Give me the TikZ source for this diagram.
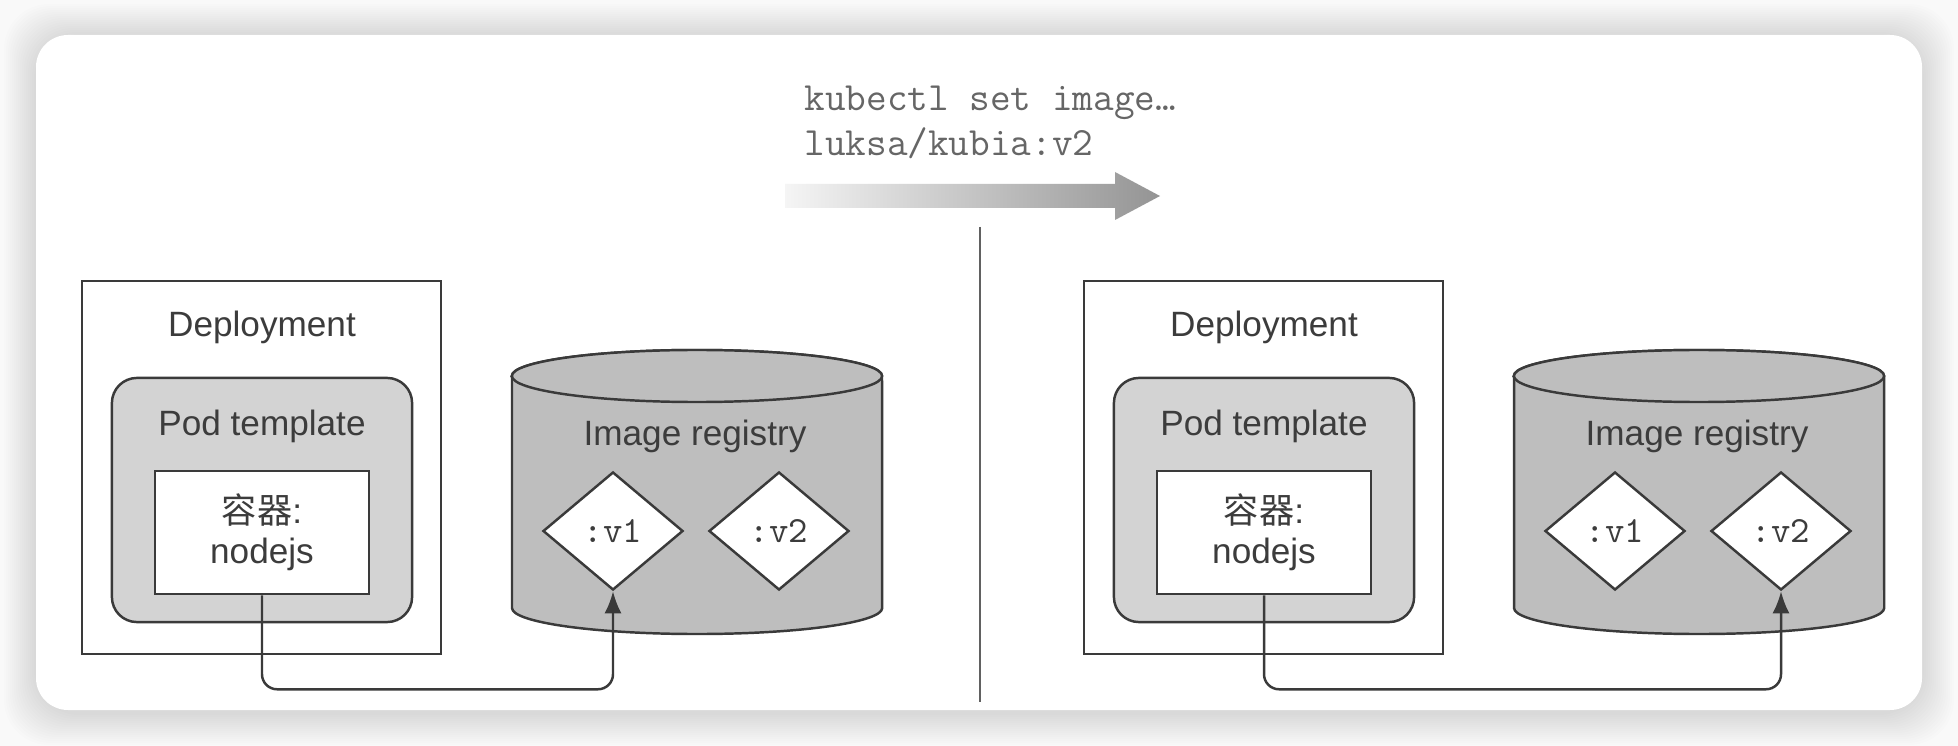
\documentclass[tikz,border=0pt]{standalone}
\usepackage{fontspec}
\setmainfont{Liberation Sans}
\newfontfamily\cjk{Noto Sans CJK SC}
\usepackage{tikz}
\usetikzlibrary{positioning, shapes.geometric, arrows.meta}

\definecolor{ink}{HTML}{3A3A3A}
\definecolor{labelgray}{HTML}{3C3C3C}
\definecolor{cmdgray}{HTML}{666666}
\definecolor{podgray}{HTML}{D3D3D3}
\definecolor{cylgray}{HTML}{BEBEBE}
\definecolor{pagebg}{HTML}{F9F9F9}

\begin{document}
\begin{tikzpicture}[x = 0.01cm, y = -0.01cm,
    every node/.style = { text = labelgray, font = \fontsize{10}{12}\selectfont },
    deploy/.style = { draw = ink, line width = 0.7pt, minimum width = 3.59cm, minimum height = 3.73cm },
    pod/.style = { draw = ink, line width = 0.7pt, fill = podgray, rounded corners = 0.25cm,
                   minimum width = 3cm, minimum height = 2.44cm },
    ctr/.style = { draw = ink, line width = 0.7pt, fill = white, align = center,
                   minimum width = 2.14cm, minimum height = 1.23cm, font = \fontsize{10}{11.4}\selectfont },
    ver/.style = { draw = ink, line width = 0.7pt, fill = white, shape = diamond, inner sep = 0pt,
                   minimum width = 1.4cm, minimum height = 1.18cm, font = \ttfamily\fontsize{10.5}{12}\selectfont },
    cyl/.style = { draw = ink, line width = 0.7pt, fill = cylgray },
    link/.style = { draw = ink, line width = 0.7pt, rounded corners = 0.15cm, -{Latex[length = 2.2mm, width = 1.7mm]} }
  ]
    \useasboundingbox (0,0) rectangle (1958,746);
    \fill[pagebg] (0,0) rectangle (1958,746);
    \foreach \d in {1,...,16}
      \fill[black, opacity = 0.009, rounded corners = 0.45cm] (36-2*\d,36-2*\d) rectangle (1922+2*\d,713+2*\d);
    \fill[white, rounded corners = 0.32cm] (36,35) rectangle (1922,710);

    \node[text = cmdgray, align = left, anchor = west, font = \ttfamily\fontsize{11.4}{12.8}\selectfont]
      (cmd) at (792,122) { kubectl set image… \\ luksa/kubia:v2 };
    \shade[left color = black!4, right color = black!42]
      (785,184) -- (1115,184) -- (1115,172) -- (1160,196) -- (1115,220) -- (1115,208) -- (785,208) -- cycle;

    \coordinate (sepT) at (980,227);
    \coordinate (sepB) at (980,702);
    \draw[ink!80, line width = 0.5pt] (sepT) -- (sepB);

    \node[deploy] (dep1) at (261.5,467.5) {};
    \node (deptxt1) at (262,327) { Deployment };
    \node[pod] (pod1) at (262,500) {};
    \node (podtxt1) at (262,426) { Pod template };
    \node[ctr] (ctr1) at (262,532.5) { {\cjk 容器}: \\ nodejs };
    \filldraw[cyl] (512,376) -- (512,608) arc[start angle = 180, end angle = 360, x radius = 1.85cm, y radius = 0.26cm]
      -- (882,376) arc[start angle = 0, end angle = 180, x radius = 1.85cm, y radius = 0.26cm] -- cycle;
    \draw[cyl] (697,376) ellipse[x radius = 1.85cm, y radius = 0.26cm];
    \node (reg1) at (695,436) { Image registry };
    \node[ver] (va1) at (613,531) { :v1 };
    \node[ver] (vb1) at (779,531) { :v2 };
    \draw[link] (ctr1.south) -- ++(0,94) -| (va1.south);

    \node[deploy] (dep2) at (1263.5,467.5) {};
    \node (deptxt2) at (1264,327) { Deployment };
    \node[pod] (pod2) at (1264,500) {};
    \node (podtxt2) at (1264,426) { Pod template };
    \node[ctr] (ctr2) at (1264,532.5) { {\cjk 容器}: \\ nodejs };
    \filldraw[cyl] (1514,376) -- (1514,608) arc[start angle = 180, end angle = 360, x radius = 1.85cm, y radius = 0.26cm]
      -- (1884,376) arc[start angle = 0, end angle = 180, x radius = 1.85cm, y radius = 0.26cm] -- cycle;
    \draw[cyl] (1699,376) ellipse[x radius = 1.85cm, y radius = 0.26cm];
    \node (reg2) at (1697,436) { Image registry };
    \node[ver] (va2) at (1615,531) { :v1 };
    \node[ver] (vb2) at (1781,531) { :v2 };
    \draw[link] (ctr2.south) -- ++(0,94) -| (vb2.south);
\end{tikzpicture}
\end{document}
